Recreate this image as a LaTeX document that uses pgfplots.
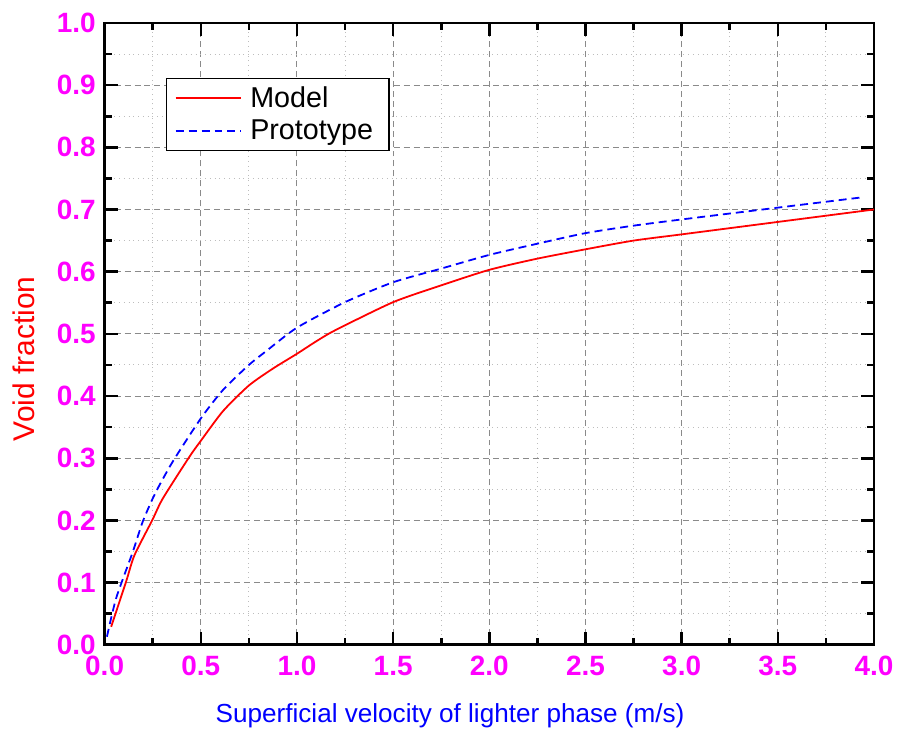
\documentclass[border=0pt]{standalone}
\usepackage{pgfplots}
\pgfplotsset{compat=1.18}
\usepackage{fontspec}
\setmainfont{Liberation Sans}
\definecolor{tickmag}{HTML}{FF00FF}
\definecolor{gridmaj}{HTML}{8A8A8A}
\definecolor{gridmin}{HTML}{BDBDBD}

\begin{document}
\begin{tikzpicture}
\begin{axis}[
  scale only axis,
  width=386pt, height=312pt,
  xmin=0, xmax=4, ymin=0, ymax=1,
  xtick={0,0.5,...,4.0}, ytick={0,0.1,...,1.0},
  minor x tick num=1, minor y tick num=1,
  tick align=inside,
  major tick length=6.5pt, minor tick length=3.5pt,
  every tick/.style={black, line width=1.3pt},
  axis line style={line width=1.4pt},
  grid=both,
  major grid style={gridmaj, dashed, dash pattern=on 3pt off 2pt, line width=0.5pt},
  minor grid style={gridmin, dotted, line width=0.5pt},
  /pgf/number format/assume math mode=true,
  /pgf/number format/.cd, fixed, fixed zerofill, precision=1, /pgfplots/.cd,
  tick label style={font=\fontsize{14}{16}\selectfont\bfseries, text=tickmag},
  xticklabel style={yshift=-2pt},
  yticklabel style={xshift=-1pt},
  xlabel={Superficial velocity of lighter phase (m/s)},
  ylabel={Void fraction},
  xlabel style={font=\fontsize{13.1}{15}\selectfont, text=blue,
    at={(axis description cs:0.449,-0.114)}, anchor=center},
  ylabel style={font=\fontsize{15}{17}\selectfont, text=red,
    at={(axis description cs:-0.105,0.46)}, anchor=center},
  legend style={at={(rel axis cs:0.08,0.912)}, anchor=north west, draw=black,
    line width=0.6pt, font=\fontsize{14.4}{17}\selectfont, inner xsep=4pt, inner ysep=2pt,
    row sep=1pt, nodes={inner xsep=4pt}},
  legend cell align=left,
  legend image post style={line width=0.9pt},
  legend image code/.code={\draw[#1] (0cm,0cm) -- (33pt,0cm);},
  clip=false,
]
\addplot[red, line width=0.9pt, smooth, tension=0.4] coordinates {
  (0.034,0.029) (0.112,0.102) (0.155,0.144) (0.247,0.2) (0.302,0.235) (0.44,0.302)
  (0.5,0.328) (0.616,0.376) (0.75,0.417) (0.874,0.444) (1.0,0.468) (1.1,0.488)
  (1.2,0.506) (1.5,0.551) (1.75,0.578) (2.0,0.603) (2.25,0.621) (2.5,0.636)
  (2.75,0.65) (3.0,0.66) (3.5,0.68) (4.0,0.7)
};
\addlegendentry{Model}
\addplot[blue, line width=0.9pt, dash pattern=on 4pt off 2.5pt, smooth, tension=0.4] coordinates {
  (0.012,0.013) (0.06,0.075) (0.147,0.15) (0.198,0.198) (0.262,0.243) (0.353,0.294)
  (0.5,0.364) (0.616,0.41) (0.75,0.45) (0.843,0.473) (1.0,0.51) (1.25,0.551)
  (1.5,0.583) (1.75,0.605) (2.0,0.627) (2.25,0.645) (2.5,0.662) (2.75,0.674)
  (3.0,0.684) (3.5,0.703) (3.95,0.72)
};
\addlegendentry{Prototype}
\path (rel axis cs:-0.136,-0.152) rectangle (rel axis cs:1.0298,1.0369);
\end{axis}
\end{tikzpicture}
\end{document}
